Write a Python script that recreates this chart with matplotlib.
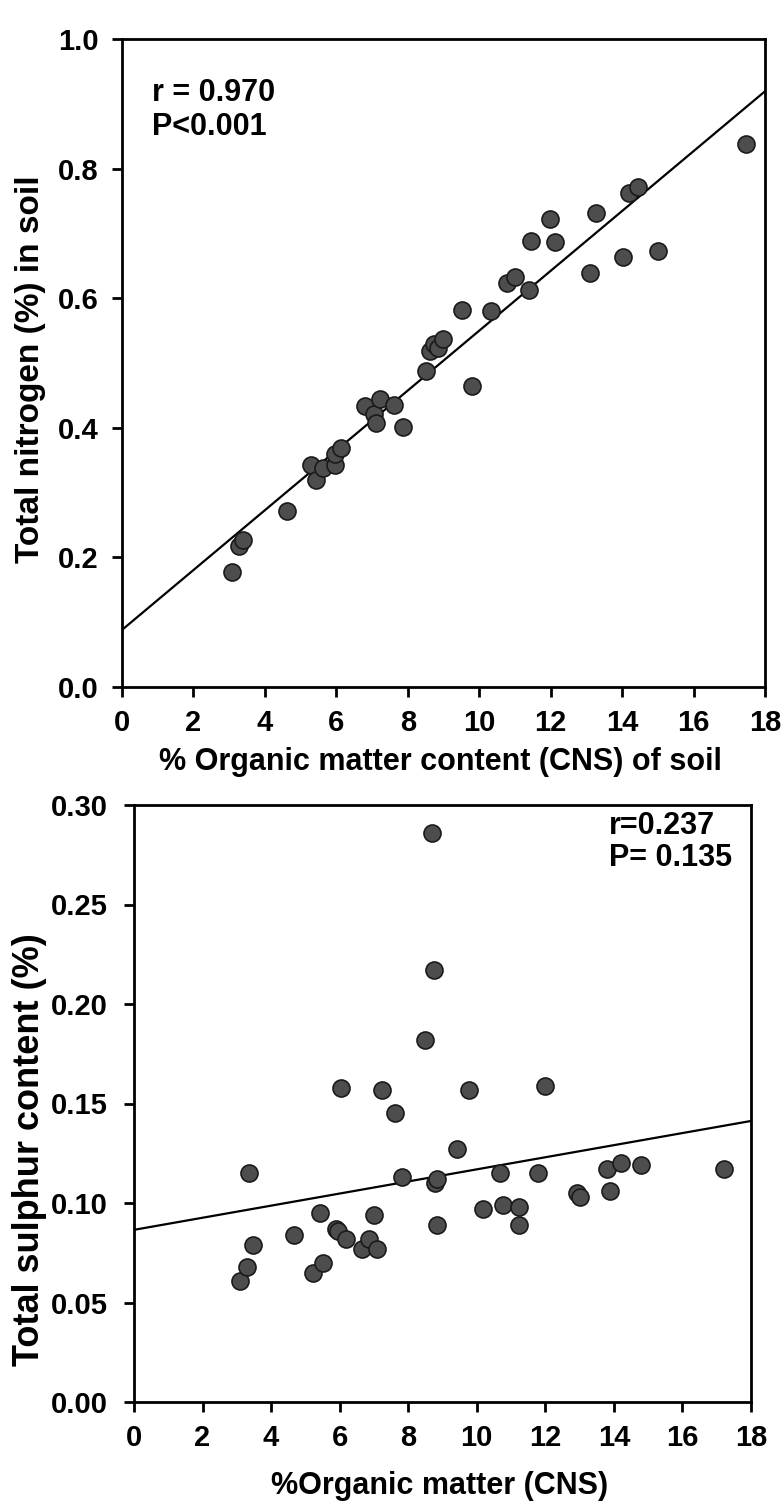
"""
Two scatter panels: soil N and S against organic matter (CNS),
each with a least-squares line and the r / P note.
"""

import numpy as np
import matplotlib
matplotlib.use("Agg")
import matplotlib.pyplot as plt
from matplotlib.ticker import FormatStrFormatter

plt.rcParams['font.family'] = ['Liberation Sans', 'DejaVu Sans']
plt.rcParams['font.weight'] = 'bold'

# top panel: organic matter (%) vs total nitrogen (%)
om_n = [3.09, 3.27, 3.40, 4.63, 5.28, 5.43, 5.64, 5.95, 5.95, 6.13,
        6.80, 7.06, 7.10, 7.22, 7.62, 7.87, 8.50, 8.62, 8.74, 8.84,
        8.98, 9.53, 9.81, 10.32, 10.78, 10.99, 11.39, 11.44, 11.99, 12.12,
        13.11, 13.27, 14.03, 14.19, 14.45, 15.00, 17.47]
nitrogen = [0.178, 0.218, 0.227, 0.272, 0.342, 0.319, 0.338, 0.343, 0.360, 0.369,
            0.433, 0.422, 0.407, 0.444, 0.435, 0.402, 0.488, 0.518, 0.530, 0.523,
            0.537, 0.582, 0.464, 0.581, 0.623, 0.632, 0.612, 0.688, 0.722, 0.687,
            0.639, 0.732, 0.664, 0.763, 0.771, 0.673, 0.838]

# bottom panel: organic matter (%) vs total sulphur (%)
om_s = [3.08, 3.31, 3.35, 3.46, 4.66, 5.21, 5.43, 5.52, 5.90, 5.94,
        6.03, 6.19, 6.66, 6.85, 7.01, 7.08, 7.23, 7.61, 7.82, 8.50,
        8.69, 8.75, 8.77, 8.85, 8.85, 9.41, 9.76, 10.17, 10.68, 10.77,
        11.22, 11.22, 11.78, 12.00, 12.92, 13.02, 13.81, 13.90, 14.22, 14.78,
        17.20]
sulphur = [0.061, 0.068, 0.115, 0.079, 0.084, 0.065, 0.095, 0.070, 0.087, 0.086,
           0.158, 0.082, 0.077, 0.082, 0.094, 0.077, 0.157, 0.145, 0.113, 0.182,
           0.286, 0.217, 0.110, 0.112, 0.089, 0.127, 0.157, 0.097, 0.115, 0.099,
           0.098, 0.089, 0.115, 0.159, 0.105, 0.103, 0.117, 0.106, 0.120, 0.119,
           0.117]

x_ticks = list(range(0, 19, 2))
n_ticks = [0.0, 0.2, 0.4, 0.6, 0.8, 1.0]
s_ticks = [0.00, 0.05, 0.10, 0.15, 0.20, 0.25, 0.30]

W, H = 783, 1505
fig = plt.figure(figsize=(W / 100, H / 100), dpi=100)


def panel(rect, x, y, yticks, yfmt, ypad, xlabel, xlab_pos, ylabel, ylab_pos,
          ylab_size, note, note_xy, note_spacing):
    ax = fig.add_axes(rect)
    ax.scatter(x, y, s=150, color='#4d4d4d', edgecolors='#1a1a1a',
               linewidths=1.2, zorder=3, clip_on=False)
    slope, icpt = np.polyfit(x, y, 1)
    xs = np.array([0, 18.3])
    ax.plot(xs, icpt + slope * xs, color='black', lw=1.6, zorder=2)

    ax.set_xlim(0, 18)
    ax.set_ylim(yticks[0], yticks[-1])
    ax.set_xticks(x_ticks)
    ax.set_yticks(yticks)
    ax.yaxis.set_major_formatter(FormatStrFormatter(yfmt))
    ax.tick_params(direction='out', length=7, width=2, labelsize=21)
    ax.tick_params(axis='x', pad=9)
    ax.tick_params(axis='y', pad=ypad)
    for s in ax.spines.values():
        s.set_linewidth(2)
    ax.set_xlabel(xlabel, fontsize=22, fontweight='bold', va='center')
    ax.xaxis.set_label_coords(*xlab_pos)
    ax.set_ylabel(ylabel, fontsize=ylab_size, fontweight='bold', va='center')
    ax.yaxis.set_label_coords(*ylab_pos)
    ax.text(note_xy[0], note_xy[1], note, transform=ax.transAxes,
            fontsize=22, fontweight='bold', ha='left', va='top',
            linespacing=note_spacing)
    return ax


panel([122 / W, 1 - 687 / H, (765 - 122) / W, (687 - 39) / H],
      om_n, nitrogen, n_ticks, '%.1f', 10,
      '% Organic matter content (CNS) of soil', (0.495, -0.116),
      'Total nitrogen (%) in soil', (-0.143, 0.491), 24,
      'r = 0.970\nP<0.001', (0.047, 0.94), 1.2)

panel([134 / W, 1 - 1402 / H, (751 - 134) / W, (1402 - 805) / H],
      om_s, sulphur, s_ticks, '%.2f', 12,
      '%Organic matter (CNS)', (0.496, -0.141),
      'Total sulphur content (%)', (-0.169, 0.422), 26,
      'r=0.237\nP= 0.135', (0.77, 0.99), 1.1)

fig.savefig('out.png', dpi=100)
